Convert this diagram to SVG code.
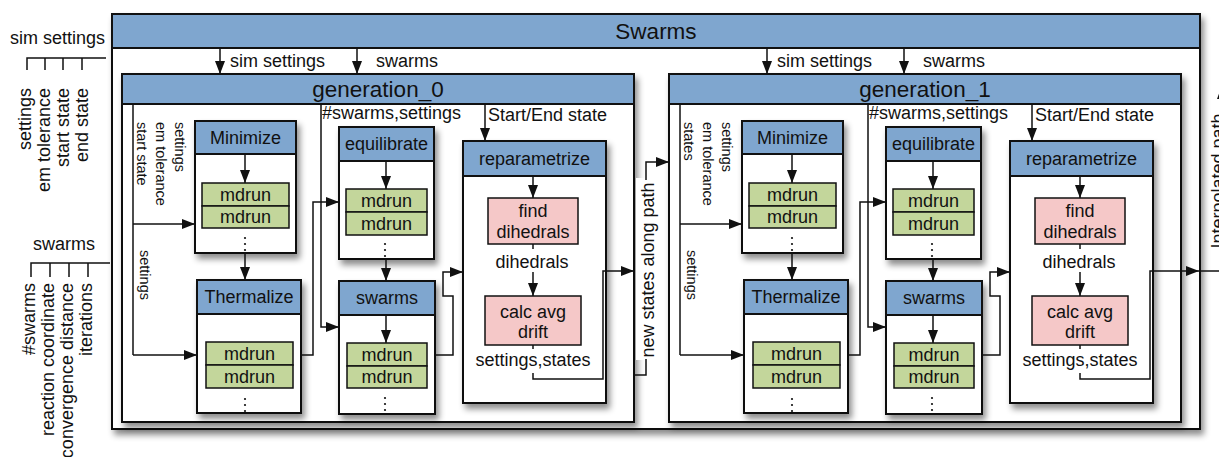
<svg xmlns="http://www.w3.org/2000/svg" width="1219" height="457" viewBox="0 0 1219 457">
  <defs>
    <filter id="shadow" x="-10%" y="-10%" width="130%" height="130%">
      <feDropShadow dx="3" dy="5" stdDeviation="3" flood-color="#000" flood-opacity="0.45"/>
    </filter>
    <marker id="arr" markerUnits="userSpaceOnUse" markerWidth="15" markerHeight="12" refX="13" refY="5" orient="auto">
      <path d="M0,0 L13,5 L0,10 z" fill="#111"/>
    </marker>
  </defs>
  <style>
    .box{fill:#fff;stroke:#111;stroke-width:2}
    .hdr{fill:#7fa6cf;stroke:#111;stroke-width:2}
    .md{fill:#c3d69b;stroke:#111;stroke-width:1.5}
    .pk{fill:#f5c8c8;stroke:#111;stroke-width:1.5}
    .t{font-family:"Liberation Sans",Arial,sans-serif;font-size:18px;fill:#111}
    .c{text-anchor:middle}
    .e{text-anchor:end}
    .title{font-size:22.5px}
    .sm{font-size:14.5px}
    .ln{fill:none;stroke:#111;stroke-width:1.5}
    .ar{marker-end:url(#arr)}
    .dot{fill:#111}
  </style>

  <rect width="1219" height="457" fill="#fff"/>

  <!-- external inputs on the left -->
  <g id="input-sim-settings">
    <text class="t" x="10" y="44">sim settings</text>
    <path class="ln" d="M27,70 V58 H106"/>
    <path class="ln" d="M45,58 V70 M63,58 V70 M82,58 V70"/>
    <text class="t e" transform="translate(31 88) rotate(-90)">settings</text>
    <text class="t e" transform="translate(50 88) rotate(-90)">em tolerance</text>
    <text class="t e" transform="translate(69 88) rotate(-90)">start state</text>
    <text class="t e" transform="translate(88 88) rotate(-90)">end state</text>
  </g>
  <g id="input-swarms">
    <text class="t" x="33" y="250">swarms</text>
    <path class="ln" d="M31,277 V263 H110"/>
    <path class="ln" d="M50,263 V277 M69,263 V277 M88,263 V277"/>
    <text class="t e" transform="translate(35 283) rotate(-90)">#swarms</text>
    <text class="t e" transform="translate(54 283) rotate(-90)">reaction coordinate</text>
    <text class="t e" transform="translate(73 283) rotate(-90)">convergence distance</text>
    <text class="t e" transform="translate(92 283) rotate(-90)">iterations</text>
  </g>

  <!-- outer container -->
  <g id="swarms">
    <rect class="box" x="112" y="14" width="1088" height="415" filter="url(#shadow)"/>
    <rect class="hdr" x="112" y="14" width="1088" height="34"/>
    <text class="t c title" x="656" y="39">Swarms</text>
  </g>

  <!-- one generation (local coordinates shared by both) -->
  <g id="generation_0">
    <rect class="box" x="122" y="74" width="512" height="348" filter="url(#shadow)"/>
    <rect class="hdr" x="122" y="74" width="512" height="30"/>
    <text class="t c title" x="378" y="97">generation_0</text>

    <g id="g0-minimize">
      <rect class="box" x="195" y="121" width="101" height="132" filter="url(#shadow)"/>
      <rect class="hdr" x="195" y="121" width="101" height="33"/>
      <text class="t c" x="245.5" y="143.5">Minimize</text>
      <rect class="md" x="202" y="183" width="87" height="23"/>
      <rect class="md" x="202" y="206" width="87" height="22"/>
      <text class="t c" x="245.5" y="200.5">mdrun</text>
      <text class="t c" x="245.5" y="223">mdrun</text>
      <circle class="dot" cx="245" cy="238" r="1.1"/><circle class="dot" cx="245" cy="244" r="1.1"/><circle class="dot" cx="245" cy="250" r="1.1"/>
    </g>
    <g id="g0-thermalize">
      <rect class="box" x="197" y="280" width="104" height="133" filter="url(#shadow)"/>
      <rect class="hdr" x="197" y="280" width="104" height="34"/>
      <text class="t c" x="249" y="303">Thermalize</text>
      <rect class="md" x="206" y="342" width="87" height="23"/>
      <rect class="md" x="206" y="365" width="87" height="23"/>
      <text class="t c" x="249.5" y="359.5">mdrun</text>
      <text class="t c" x="249.5" y="382.5">mdrun</text>
      <circle class="dot" cx="245" cy="399" r="1.1"/><circle class="dot" cx="245" cy="405" r="1.1"/><circle class="dot" cx="245" cy="411" r="1.1"/>
    </g>
    <g id="g0-equilibrate">
      <rect class="box" x="339" y="127" width="95" height="132" filter="url(#shadow)"/>
      <rect class="hdr" x="339" y="127" width="95" height="34"/>
      <text class="t c" x="386.5" y="150">equilibrate</text>
      <rect class="md" x="346" y="189" width="81" height="23"/>
      <rect class="md" x="346" y="212" width="81" height="23"/>
      <text class="t c" x="386.5" y="206.5">mdrun</text>
      <text class="t c" x="386.5" y="229.5">mdrun</text>
      <circle class="dot" cx="385" cy="244" r="1.1"/><circle class="dot" cx="385" cy="250" r="1.1"/><circle class="dot" cx="385" cy="256" r="1.1"/>
    </g>
    <g id="g0-swarms">
      <rect class="box" x="339" y="281" width="96" height="133" filter="url(#shadow)"/>
      <rect class="hdr" x="339" y="281" width="96" height="34"/>
      <text class="t c" x="387" y="304">swarms</text>
      <rect class="md" x="347" y="343" width="80" height="23"/>
      <rect class="md" x="347" y="366" width="80" height="22"/>
      <text class="t c" x="387" y="360.5">mdrun</text>
      <text class="t c" x="387" y="383">mdrun</text>
      <circle class="dot" cx="385" cy="398" r="1.1"/><circle class="dot" cx="385" cy="404" r="1.1"/><circle class="dot" cx="385" cy="410" r="1.1"/>
    </g>
    <g id="g0-reparametrize">
      <rect class="box" x="463" y="141" width="143" height="262" filter="url(#shadow)"/>
      <rect class="hdr" x="463" y="141" width="143" height="35"/>
      <text class="t c" x="534.5" y="164.5">reparametrize</text>
      <rect class="pk" x="488" y="198" width="90" height="46"/>
      <text class="t c" x="533" y="217">find</text>
      <text class="t c" x="533" y="238">dihedrals</text>
      <rect class="pk" x="485" y="296" width="96" height="49"/>
      <text class="t c" x="533" y="318">calc avg</text>
      <text class="t c" x="533" y="338">drift</text>
    </g>
  </g>

  <g id="generation_1" transform="translate(547 0)">
    <rect class="box" x="122" y="74" width="512" height="348" filter="url(#shadow)"/>
    <rect class="hdr" x="122" y="74" width="512" height="30"/>
    <text class="t c title" x="378" y="97">generation_1</text>

    <g id="g1-minimize">
      <rect class="box" x="195" y="121" width="101" height="132" filter="url(#shadow)"/>
      <rect class="hdr" x="195" y="121" width="101" height="33"/>
      <text class="t c" x="245.5" y="143.5">Minimize</text>
      <rect class="md" x="202" y="183" width="87" height="23"/>
      <rect class="md" x="202" y="206" width="87" height="22"/>
      <text class="t c" x="245.5" y="200.5">mdrun</text>
      <text class="t c" x="245.5" y="223">mdrun</text>
      <circle class="dot" cx="245" cy="238" r="1.1"/><circle class="dot" cx="245" cy="244" r="1.1"/><circle class="dot" cx="245" cy="250" r="1.1"/>
    </g>
    <g id="g1-thermalize">
      <rect class="box" x="197" y="280" width="104" height="133" filter="url(#shadow)"/>
      <rect class="hdr" x="197" y="280" width="104" height="34"/>
      <text class="t c" x="249" y="303">Thermalize</text>
      <rect class="md" x="206" y="342" width="87" height="23"/>
      <rect class="md" x="206" y="365" width="87" height="23"/>
      <text class="t c" x="249.5" y="359.5">mdrun</text>
      <text class="t c" x="249.5" y="382.5">mdrun</text>
      <circle class="dot" cx="245" cy="399" r="1.1"/><circle class="dot" cx="245" cy="405" r="1.1"/><circle class="dot" cx="245" cy="411" r="1.1"/>
    </g>
    <g id="g1-equilibrate">
      <rect class="box" x="339" y="127" width="95" height="132" filter="url(#shadow)"/>
      <rect class="hdr" x="339" y="127" width="95" height="34"/>
      <text class="t c" x="386.5" y="150">equilibrate</text>
      <rect class="md" x="346" y="189" width="81" height="23"/>
      <rect class="md" x="346" y="212" width="81" height="23"/>
      <text class="t c" x="386.5" y="206.5">mdrun</text>
      <text class="t c" x="386.5" y="229.5">mdrun</text>
      <circle class="dot" cx="385" cy="244" r="1.1"/><circle class="dot" cx="385" cy="250" r="1.1"/><circle class="dot" cx="385" cy="256" r="1.1"/>
    </g>
    <g id="g1-swarms">
      <rect class="box" x="339" y="281" width="96" height="133" filter="url(#shadow)"/>
      <rect class="hdr" x="339" y="281" width="96" height="34"/>
      <text class="t c" x="387" y="304">swarms</text>
      <rect class="md" x="347" y="343" width="80" height="23"/>
      <rect class="md" x="347" y="366" width="80" height="22"/>
      <text class="t c" x="387" y="360.5">mdrun</text>
      <text class="t c" x="387" y="383">mdrun</text>
      <circle class="dot" cx="385" cy="398" r="1.1"/><circle class="dot" cx="385" cy="404" r="1.1"/><circle class="dot" cx="385" cy="410" r="1.1"/>
    </g>
    <g id="g1-reparametrize">
      <rect class="box" x="463" y="141" width="143" height="262" filter="url(#shadow)"/>
      <rect class="hdr" x="463" y="141" width="143" height="35"/>
      <text class="t c" x="534.5" y="164.5">reparametrize</text>
      <rect class="pk" x="488" y="198" width="90" height="46"/>
      <text class="t c" x="533" y="217">find</text>
      <text class="t c" x="533" y="238">dihedrals</text>
      <rect class="pk" x="485" y="296" width="96" height="49"/>
      <text class="t c" x="533" y="318">calc avg</text>
      <text class="t c" x="533" y="338">drift</text>
    </g>
  </g>

  <!-- connectors -->
  <g id="connectors">
    <!-- data flow inside each generation -->
    <g id="flow-0">
      <path class="ln ar" d="M220,48 V74"/>
      <text class="t" x="230" y="67">sim settings</text>
      <path class="ln ar" d="M357,48 V74"/>
      <text class="t" x="376" y="67">swarms</text>

      <path class="ln" d="M133,104 V355"/>
      <path class="ln ar" d="M133,224 H195"/>
      <path class="ln ar" d="M133,355 H197"/>
      <text class="t sm" transform="translate(175 122) rotate(90)">settings</text>
      <text class="t sm" transform="translate(156 122) rotate(90)">em tolerance</text>
      <text class="t sm" transform="translate(137 122) rotate(90)">start state</text>
      <text class="t sm" transform="translate(140 250) rotate(90)">settings</text>

      <path class="ln ar" d="M245,154 V183"/>
      <path class="ln ar" d="M245,253 V280"/>

      <text class="t" x="322" y="119">#swarms,settings</text>
      <path class="ln ar" d="M321,104 V327 H339"/>
      <path class="ln ar" d="M301,355 H313 V202 H339"/>
      <path class="ln ar" d="M386,161 V189"/>
      <path class="ln ar" d="M386,259 V281"/>
      <path class="ln ar" d="M386,315 V343"/>
      <path class="ln ar" d="M435,355 H453 V296 H443 V272 H463"/>

      <path class="ln ar" d="M485,104 V141"/>
      <text class="t" x="488" y="121">Start/End state</text>
      <path class="ln ar" d="M533,176 V198"/>
      <path class="ln" d="M533,244 V249"/>
      <text class="t c" x="532" y="268">dihedrals</text>
      <path class="ln ar" d="M533,272 V296"/>
      <path class="ln" d="M533,345 V349"/>
      <text class="t c" x="533" y="366">settings,states</text>
    </g>
    <g id="flow-1" transform="translate(547 0)">
      <path class="ln ar" d="M220,48 V74"/>
      <text class="t" x="230" y="67">sim settings</text>
      <path class="ln ar" d="M357,48 V74"/>
      <text class="t" x="376" y="67">swarms</text>

      <path class="ln" d="M133,104 V355"/>
      <path class="ln ar" d="M133,224 H195"/>
      <path class="ln ar" d="M133,355 H197"/>
      <text class="t sm" transform="translate(175 122) rotate(90)">settings</text>
      <text class="t sm" transform="translate(156 122) rotate(90)">em tolerance</text>
      <text class="t sm" transform="translate(137 122) rotate(90)">states</text>
      <text class="t sm" transform="translate(140 250) rotate(90)">settings</text>

      <path class="ln ar" d="M245,154 V183"/>
      <path class="ln ar" d="M245,253 V280"/>

      <text class="t" x="322" y="119">#swarms,settings</text>
      <path class="ln ar" d="M321,104 V327 H339"/>
      <path class="ln ar" d="M301,355 H313 V202 H339"/>
      <path class="ln ar" d="M386,161 V189"/>
      <path class="ln ar" d="M386,259 V281"/>
      <path class="ln ar" d="M386,315 V343"/>
      <path class="ln ar" d="M435,355 H453 V296 H443 V272 H463"/>

      <path class="ln ar" d="M485,104 V141"/>
      <text class="t" x="488" y="121">Start/End state</text>
      <path class="ln ar" d="M533,176 V198"/>
      <path class="ln" d="M533,244 V249"/>
      <text class="t c" x="532" y="268">dihedrals</text>
      <path class="ln ar" d="M533,272 V296"/>
      <path class="ln" d="M533,345 V349"/>
      <text class="t c" x="533" y="366">settings,states</text>
    </g>

    <!-- generation_0 output to generation_1 -->
    <path class="ln ar" d="M533,373 V379 H603 V271 H634"/>
    <rect x="636" y="178" width="24" height="182" fill="#fff"/>
    <path class="ln" d="M634,375 H646 V359"/>
    <path class="ln ar" d="M646,180 V162 H669"/>
    <text class="t c" transform="translate(654 270) rotate(-90)">new states along path</text>

    <!-- generation_1 output leaving the container -->
    <path class="ln ar" d="M1080,373 V379 H1150 V271 H1199"/>
    <path class="ln ar" d="M1200,271 H1222 V86"/>
    <text class="t c" transform="translate(1224 181) rotate(-90)">Interpolated path</text>
  </g>
</svg>
